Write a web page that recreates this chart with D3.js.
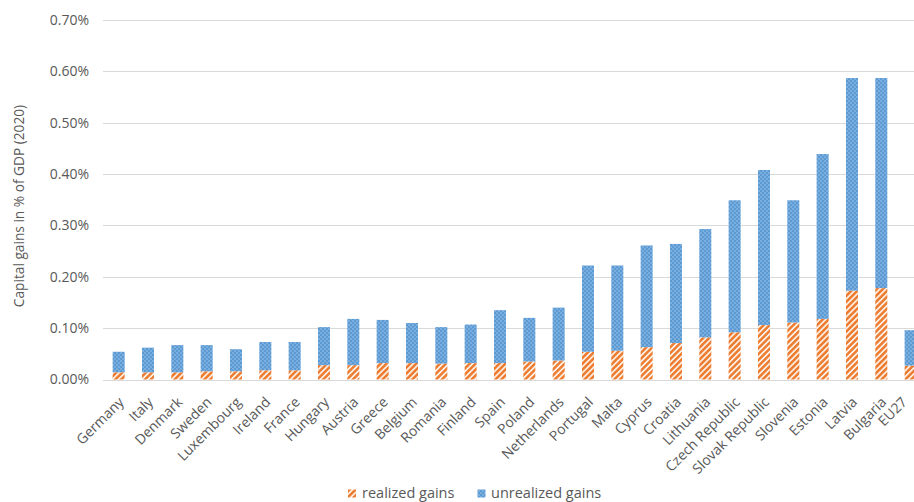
<!DOCTYPE html>
<html>
<head>
<meta charset="utf-8">
<script src="https://cdn.jsdelivr.net/npm/d3@7"></script>
<style>
  html, body { margin: 0; padding: 0; background: #fff; }
  svg { display: block; font-family: "Open Sans", "DejaVu Sans", sans-serif; }
</style>
</head>
<body>
<svg id="chart" width="914" height="502"></svg>
<script>
// Capital gains as a share of GDP (2020), in percent
const categories = ["Germany", "Italy", "Denmark", "Sweden", "Luxembourg", "Ireland", "France",
  "Hungary", "Austria", "Greece", "Belgium", "Romania", "Finland", "Spain", "Poland",
  "Netherlands", "Portugal", "Malta", "Cyprus", "Croatia", "Lithuania", "Czech Republic",
  "Slovak Republic", "Slovenia", "Estonia", "Latvia", "Bulgaria", "EU27"];

const realized = [0.014, 0.014, 0.014, 0.016, 0.016, 0.018, 0.018, 0.028, 0.028, 0.032,
  0.032, 0.031, 0.032, 0.032, 0.035, 0.037, 0.054, 0.056, 0.063, 0.071, 0.082, 0.092,
  0.106, 0.111, 0.118, 0.173, 0.178, 0.027];

const unrealized = [0.040, 0.048, 0.053, 0.051, 0.043, 0.055, 0.055, 0.074, 0.090, 0.084,
  0.078, 0.071, 0.075, 0.103, 0.085, 0.103, 0.168, 0.166, 0.198, 0.193, 0.211, 0.257,
  0.302, 0.238, 0.321, 0.414, 0.409, 0.069];

const yTicks = [0, 0.1, 0.2, 0.3, 0.4, 0.5, 0.6, 0.7];
const seriesNames = ["realized gains", "unrealized gains"];

const svg = d3.select("#chart");
const textColor = "#595959";
const orange = "#ED7D31";
const blue = "#5B9BD5";

// Fill patterns: orange upward diagonal hatch, blue with white dots
const defs = svg.append("defs");
const hatch = defs.append("pattern")
  .attr("id", "hatch").attr("patternUnits", "userSpaceOnUse")
  .attr("width", 4.2).attr("height", 4.2)
  .attr("patternTransform", "rotate(45)");
hatch.append("rect").attr("width", 4.2).attr("height", 4.2).attr("fill", "#fdf0e6");
hatch.append("rect").attr("width", 2.5).attr("height", 4.2).attr("fill", orange);

const dots = defs.append("pattern")
  .attr("id", "dots").attr("patternUnits", "userSpaceOnUse")
  .attr("width", 4).attr("height", 4);
dots.append("rect").attr("width", 4).attr("height", 4).attr("fill", blue);
dots.append("rect").attr("x", 0.5).attr("y", 0.5).attr("width", 1).attr("height", 1).attr("fill", "#dde9f6");
dots.append("rect").attr("x", 2.5).attr("y", 2.5).attr("width", 1).attr("height", 1).attr("fill", "#dde9f6");

const x = d3.scaleBand()
  .domain(categories)
  .range([104, 925.3])
  .paddingInner(0.59)
  .paddingOuter(0.295);

const y = d3.scaleLinear().domain([0, 0.7]).range([379.5, 20]);

// Horizontal gridlines
svg.append("g").selectAll("line")
  .data(yTicks)
  .join("line")
  .attr("x1", 103).attr("x2", 914)
  .attr("y1", d => Math.round(y(d)) + 0.5).attr("y2", d => Math.round(y(d)) + 0.5)
  .attr("stroke", "#d9d9d9").attr("stroke-width", 1);

// Y axis labels
const yAxis = d3.axisLeft(y).tickValues(yTicks).tickFormat(d => d.toFixed(2) + "%").tickSize(0).tickPadding(0);
const yg = svg.append("g").attr("transform", "translate(89,0)").call(yAxis);
yg.select(".domain").remove();
yg.selectAll("text").attr("fill", textColor).attr("font-size", 14)
  .attr("font-family", "'Open Sans', sans-serif");

// Axis title
svg.append("text")
  .attr("transform", "translate(23.5,206) rotate(-90)")
  .attr("text-anchor", "middle")
  .attr("fill", textColor).attr("font-size", 13.7)
  .text("Capital gains in % of GDP (2020)");

// Stacked bars
const rows = categories.map((c, i) => ({ c, r: realized[i], u: unrealized[i] }));
svg.append("g").selectAll("rect")
  .data(rows).join("rect")
  .attr("x", d => x(d.c)).attr("width", x.bandwidth())
  .attr("y", d => y(d.r)).attr("height", d => y(0) - y(d.r))
  .attr("fill", "url(#hatch)");
svg.append("g").selectAll("rect")
  .data(rows).join("rect")
  .attr("x", d => x(d.c)).attr("width", x.bandwidth())
  .attr("y", d => y(d.r + d.u)).attr("height", d => y(d.r) - y(d.r + d.u))
  .attr("fill", "url(#dots)");

// X category labels, rotated; kept inside the right edge of the canvas
svg.append("g").selectAll("text")
  .data(categories).join("text")
  .attr("transform", d => `translate(${Math.min(x(d) + x.bandwidth() / 2 - 1, 901)},396) rotate(-45)`)
  .attr("text-anchor", "end")
  .attr("dy", "0.71em")
  .attr("fill", textColor).attr("font-size", 14)
  .text(d => d);

// Legend
const legend = svg.append("g");
const legendItems = [
  { name: seriesNames[0], fill: "url(#hatch)", sx: 348, tx: 362 },
  { name: seriesNames[1], fill: "url(#dots)", sx: 477.5, tx: 491 }
];
legendItems.forEach(it => {
  legend.append("rect").attr("x", it.sx).attr("y", 489.5).attr("width", 8).attr("height", 8).attr("fill", it.fill);
  legend.append("text").attr("x", it.tx).attr("y", 497.5)
    .attr("fill", textColor).attr("font-size", 14.5).text(it.name);
});
</script>
</body>
</html>
